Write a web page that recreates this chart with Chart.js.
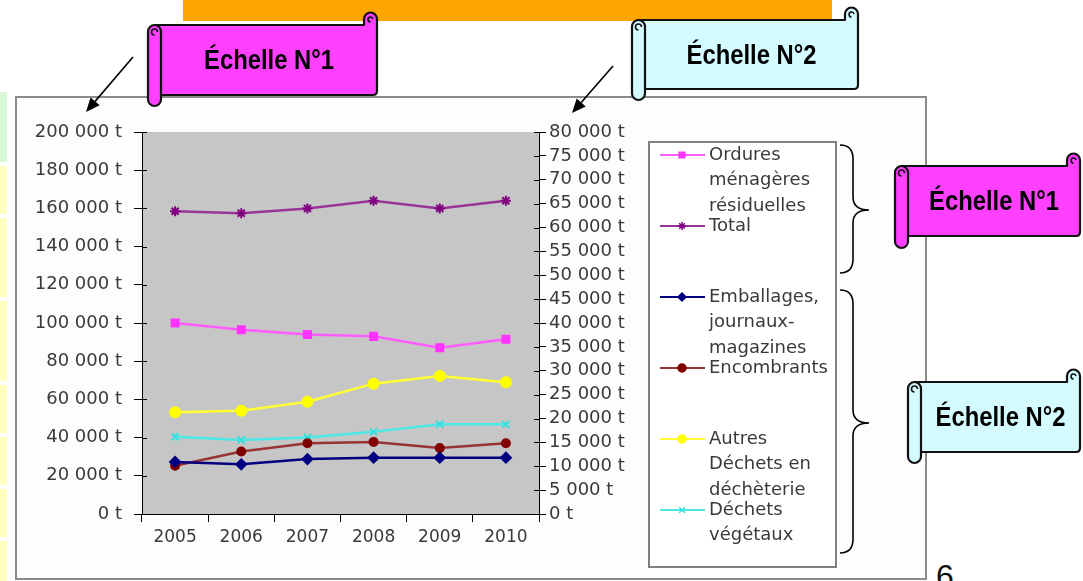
<!DOCTYPE html>
<html lang="fr">
<head>
<meta charset="utf-8">
<title>Tonnages de déchets 2005-2010</title>
<script src="https://cdn.jsdelivr.net/npm/chart.js@4.4.0/dist/chart.umd.min.js"></script>
<style>
  html, body { margin: 0; padding: 0; background: #fff; }
  body { width: 1083px; height: 581px; position: relative; overflow: hidden; font-family: 'Liberation Sans', Arial, sans-serif; }
  .strip { position: absolute; left: 0; width: 7px; }
  #banner { position: absolute; left: 183px; top: 0; width: 649px; height: 21px; background: #ffa500; }
  #box { position: absolute; left: 15px; top: 96px; width: 908px; height: 480px; border: 2px solid #8a8a8a; background: #fdfdfd; }
  #deco { position: absolute; left: 0; top: 0; width: 1083px; height: 581px; pointer-events: none; }
  #page { position: absolute; left: 936px; top: 560px; font-size: 32px; color: #111; line-height: 1; }
</style>
</head>
<body>
<div class="strip" style="top:92px;height:70px;background:#d8f8d8"></div>
<div class="strip" style="top:166px;height:48px;background:#ffffc0"></div>
<div class="strip" style="top:218px;height:79px;background:#ffffc0"></div>
<div class="strip" style="top:301px;height:80px;background:#ffffc0"></div>
<div class="strip" style="top:385px;height:48px;background:#ffffc0"></div>
<div class="strip" style="top:437px;height:48px;background:#ffffc0"></div>
<div class="strip" style="top:489px;height:48px;background:#ffffc0"></div>
<div class="strip" style="top:541px;height:40px;background:#ffffc0"></div>
<div id="banner"></div>
<div id="box"><canvas id="chart"></canvas></div>
<div id="page">6</div>
<svg id="deco" xmlns="http://www.w3.org/2000/svg"></svg>

<script>
// --- données ---
const years = ['2005', '2006', '2007', '2008', '2009', '2010'];

// échelle n°1 (axe de gauche)
const ordures = [100000, 96500, 94000, 93000, 87000, 91500];
const total = [158500, 157500, 160000, 164000, 160000, 164000];

// échelle n°2 (axe de droite)
const emballages = [10900, 10400, 11500, 11800, 11800, 11800];
const encombrants = [10100, 13100, 14800, 15100, 13800, 14800];
const autres = [21300, 21600, 23500, 27300, 28900, 27600];
const vegetaux = [16200, 15500, 16000, 17200, 18800, 18800];

const legendLines = [
  ['Ordures', 'ménagères', 'résiduelles'],
  ['Total'],
  ['Emballages,', 'journaux-', 'magazines'],
  ['Encombrants'],
  ['Autres', 'Déchets en', 'déchèterie'],
  ['Déchets', 'végétaux']
];

const leftTicks = { min: 0, max: 200000, step: 20000 };
const rightTicks = { min: 0, max: 80000, step: 5000 };

function tonnes(v) {
  return String(v).replace(/\B(?=(\d{3})+(?!\d))/g, ' ') + ' t';
}

function serie(i, data, axis, color, markColor, style, radius) {
  return {
    label: legendLines[i].join(' '),
    data: data,
    yAxisID: axis,
    borderColor: color,
    backgroundColor: markColor,
    pointBorderColor: markColor,
    pointBackgroundColor: markColor,
    pointStyle: style,
    pointRadius: radius,
    pointBorderWidth: 2,
    borderWidth: 2.5,
    tension: 0
  };
}

// fond gris de la zone de tracé
const plotBg = {
  id: 'plotBg',
  beforeDraw(chart) {
    const a = chart.chartArea;
    const ctx = chart.ctx;
    ctx.save();
    ctx.fillStyle = '#c6c6c6';
    ctx.fillRect(a.left, a.top, a.right - a.left, a.bottom - a.top);
    ctx.restore();
  }
};

// petits traits de graduation qui dépassent vers l'intérieur, comme dans Excel
const innerTicks = {
  id: 'innerTicks',
  afterDatasetsDraw(chart) {
    const ctx = chart.ctx;
    ctx.save();
    ctx.strokeStyle = '#000';
    ctx.lineWidth = 1;
    ['y', 'y1'].forEach(id => {
      const s = chart.scales[id];
      const x = id === 'y' ? chart.chartArea.left : chart.chartArea.right;
      const dir = id === 'y' ? 1 : -1;
      s.ticks.forEach(t => {
        const yy = Math.round(s.getPixelForValue(t.value)) + 0.5;
        ctx.beginPath();
        ctx.moveTo(x, yy);
        ctx.lineTo(x + dir * 5, yy);
        ctx.stroke();
      });
    });
    ctx.restore();
  }
};

// légende façon Excel, texte sur plusieurs lignes
const boxLegend = {
  id: 'boxLegend',
  afterDraw(chart) {
    const ctx = chart.ctx;
    const bx = 632, by = 44, bw = 187, bh = 425;
    ctx.save();
    ctx.fillStyle = '#ffffff';
    ctx.fillRect(bx, by, bw, bh);
    ctx.strokeStyle = '#808080';
    ctx.lineWidth = 2;
    ctx.strokeRect(bx, by, bw, bh);
    ctx.font = '18px "DejaVu Sans"';
    ctx.textBaseline = 'middle';
    ctx.textAlign = 'left';
    chart.data.datasets.forEach((ds, i) => {
      const y = by + 13 + i * 71;
      ctx.strokeStyle = ds.borderColor;
      ctx.lineWidth = 2;
      ctx.beginPath();
      ctx.moveTo(bx + 11, y);
      ctx.lineTo(bx + 56, y);
      ctx.stroke();
      ctx.fillStyle = ds.pointBackgroundColor;
      ctx.strokeStyle = ds.pointBorderColor;
      ctx.lineWidth = 1.5;
      if (Chart.helpers && Chart.helpers.drawPoint) {
        Chart.helpers.drawPoint(ctx, { pointStyle: ds.pointStyle, radius: 4, rotation: 0, borderWidth: 1.5 }, bx + 33, y);
      } else {
        ctx.fillRect(bx + 29, y - 4, 8, 8);
      }
      ctx.fillStyle = '#3a3a3a';
      legendLines[i].forEach((t, k) => ctx.fillText(t, bx + 60, y + k * 25.5));
    });
    ctx.restore();
  }
};

Chart.defaults.font.family = '"DejaVu Sans", sans-serif';
Chart.defaults.color = '#3a3a3a';

new Chart(document.getElementById('chart'), {
  type: 'line',
  data: {
    labels: years,
    datasets: [
      serie(0, ordures, 'y', '#ff5cff', '#ff33ff', 'rect', 5),
      serie(1, total, 'y', '#993399', '#800080', 'star', 5),
      serie(2, emballages, 'y1', '#000080', '#000080', 'rectRot', 5),
      serie(3, encombrants, 'y1', '#993333', '#800000', 'circle', 4),
      serie(4, autres, 'y1', '#ffff33', '#ffff00', 'circle', 5),
      serie(5, vegetaux, 'y1', '#4ce8e8', '#33e0e0', 'crossRot', 5)
    ]
  },
  options: {
    responsive: true,
    maintainAspectRatio: false,
    animation: false,
    layout: { padding: { top: 34, right: 285, bottom: 0, left: 0 } },
    plugins: {
      legend: { display: false },
      tooltip: { enabled: false }
    },
    scales: {
      x: {
        type: 'category',
        offset: true,
        grid: { offset: true, drawOnChartArea: false, tickLength: 8, color: '#000', tickWidth: 1 },
        border: { color: '#000', width: 1 },
        ticks: { font: { size: 17 }, padding: 5, maxRotation: 0 },
        afterFit: s => { s.height = 64; }
      },
      y: {
        position: 'left',
        min: leftTicks.min,
        max: leftTicks.max,
        grid: { drawOnChartArea: false, tickLength: 8, color: '#000' },
        border: { color: '#000', width: 1 },
        ticks: { stepSize: leftTicks.step, autoSkip: false, padding: 12, font: { size: 18 }, callback: v => tonnes(v) },
        afterFit: s => { s.width = 125; }
      },
      y1: {
        position: 'right',
        min: rightTicks.min,
        max: rightTicks.max,
        grid: { drawOnChartArea: false, tickLength: 7, color: '#000' },
        border: { color: '#000', width: 1 },
        ticks: { stepSize: rightTicks.step, autoSkip: false, padding: 3, font: { size: 18 }, callback: v => tonnes(v) },
        afterFit: s => { s.width = 101; }
      }
    }
  },
  plugins: [plotBg, innerTicks, boxLegend]
});

// --- décor : parchemins, flèches, accolades ---
const NS = 'http://www.w3.org/2000/svg';
const svg = document.getElementById('deco');

function el(name, attrs, parent) {
  const e = document.createElementNS(NS, name);
  for (const k in attrs) e.setAttribute(k, attrs[k]);
  (parent || svg).appendChild(e);
  return e;
}

function scroll(x0, y0, x1, y1, rollBottom, fill, text) {
  const g = el('g', { stroke: '#111', 'stroke-width': 2.2, fill: fill, 'stroke-linejoin': 'round' });
  // corps + enroulement en haut à droite
  const d = `M${x0 + 7},${y0} L${x1 - 13},${y0} L${x1 - 13},${y0 - 6} A6.5,6.5 0 0 1 ${x1},${y0 - 6}` +
            ` L${x1},${y1 - 4} Q${x1},${y1} ${x1 - 4},${y1} L${x0 + 7},${y1} Z`;
  el('path', { d: d }, g);
  el('path', { d: `M${x1 - 6.5},${y0 - 3} A2.5,2.5 0 1 1 ${x1 - 4},${y0 - 6}`, fill: 'none', 'stroke-width': 1.6 }, g);
  // rouleau de gauche
  el('rect', { x: x0, y: y0, width: 13, height: rollBottom - y0, rx: 6.5 }, g);
  el('path', { d: `M${x0 + 6.5},${y0 + 10} A3,3 0 1 1 ${x0 + 9.5},${y0 + 7}`, fill: 'none', 'stroke-width': 1.6 }, g);
  const t = el('text', {
    x: (x0 + 13 + x1) / 2, y: (y0 + y1) / 2 + 9,
    'text-anchor': 'middle', 'font-family': 'Liberation Sans, Arial, sans-serif',
    'font-weight': 'bold', 'font-size': 27, fill: '#000', stroke: 'none',
    textLength: 130, lengthAdjust: 'spacingAndGlyphs'
  });
  t.textContent = text;
}

function arrow(xa, ya, xb, yb) {
  const g = el('g', { stroke: '#000', fill: '#000' });
  const ang = Math.atan2(yb - ya, xb - xa);
  const hx = xb - 14 * Math.cos(ang), hy = yb - 14 * Math.sin(ang);
  el('line', { x1: xa, y1: ya, x2: hx, y2: hy, 'stroke-width': 1.6 }, g);
  const px = -Math.sin(ang) * 6, py = Math.cos(ang) * 6;
  el('polygon', { points: `${xb},${yb} ${hx + px},${hy + py} ${hx - px},${hy - py}`, stroke: 'none' }, g);
}

function brace(x, yTop, yTip, yBot) {
  const xm = x + 13, xt = x + 29;
  const d = `M${x},${yTop} Q${xm},${yTop} ${xm},${yTop + 14} L${xm},${yTip - 13} Q${xm},${yTip} ${xt},${yTip}` +
            ` Q${xm},${yTip} ${xm},${yTip + 13} L${xm},${yBot - 14} Q${xm},${yBot} ${x},${yBot}`;
  el('path', { d: d, fill: 'none', stroke: '#000', 'stroke-width': 1.6 });
}

scroll(148, 25, 377, 95, 106, '#ff40ff', 'Échelle N°1');
scroll(632, 20, 858, 89, 100, '#d4fbff', 'Échelle N°2');
scroll(895, 166, 1080, 236, 248, '#ff40ff', 'Échelle N°1');
scroll(908, 382, 1080, 452, 463, '#d4fbff', 'Échelle N°2');

arrow(133, 57, 86, 112);
arrow(613, 66, 572, 113);

brace(840, 145, 210, 273);
brace(840, 290, 423, 553);
</script>
</body>
</html>
